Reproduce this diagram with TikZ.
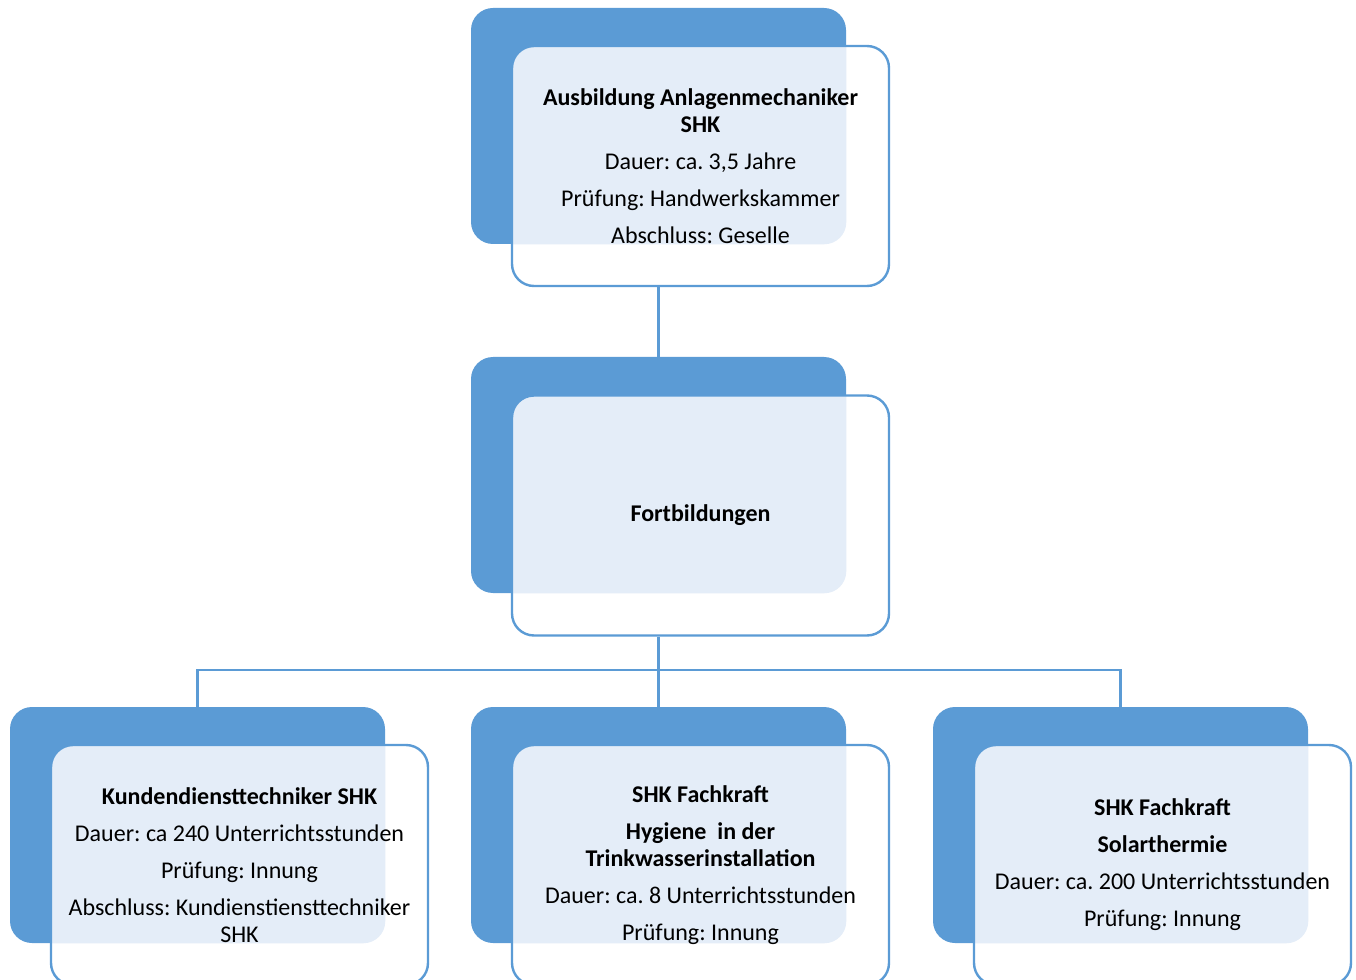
\documentclass[tikz,border=0pt]{standalone}
\usepackage{fontspec}
\setmainfont{Carlito}
\usepackage{pgf, tikz}
\definecolor{shkblue}{RGB}{91,155,213}
\definecolor{shktint}{RGB}{228,237,248}
\frenchspacing

\begin{document}
\begin{tikzpicture}[x=0.75pt,y=-0.75pt,
  back/.style={rectangle, rounded corners=16.5pt, fill=shkblue, minimum width=281.25pt, minimum height=177pt, inner sep=0pt},
  front/.style={rectangle, rounded corners=16.5pt, draw=shkblue, line width=1.8pt, fill=white, minimum width=282.75pt, minimum height=180pt, inner sep=0pt, align=center, font=\fontsize{18}{20.25}\selectfont},
  conn/.style={draw=shkblue, line width=2pt}]
\useasboundingbox (0,0) rectangle (1356,980);
\clip (0,0) rectangle (1356,980);

\node[back] (b1) at (658.5,126) {};
\node[back] (b2) at (658.5,475) {};
\node[back] (b3) at (197.5,825) {};
\node[back] (b4) at (658.5,825) {};
\node[back] (b5) at (1120.5,825) {};

\node[front, path picture={\fill[shktint, rounded corners=16.5pt] (b1.south west) rectangle (b1.north east);}] (f1) at (700.5,166)
  {\textbf{Ausbildung Anlagenmechaniker}\\ \textbf{SHK}\\[7.5pt] Dauer: ca. 3,5 Jahre\\[7.5pt] Prüfung: Handwerkskammer\\[7.5pt] Abschluss: Geselle};
\node[front, path picture={\fill[shktint, rounded corners=16.5pt] (b2.south west) rectangle (b2.north east);}] (f2) at (700.5,515.5)
  {\textbf{Fortbildungen}};
\node[front, path picture={\fill[shktint, rounded corners=16.5pt] (b3.south west) rectangle (b3.north east);}] (f3) at (239.5,865)
  {\textbf{Kundendiensttechniker SHK}\\[7.5pt] Dauer: ca 240 Unterrichtsstunden\\[7.5pt] Prüfung: Innung\\[7.5pt] Abschluss: Kundienstiensttechniker\\ SHK};
\node[front, path picture={\fill[shktint, rounded corners=16.5pt] (b4.south west) rectangle (b4.north east);}] (f4) at (700.5,865)
  {\textbf{SHK Fachkraft}\\[7.5pt] \textbf{Hygiene\ \ in der}\\ \textbf{Trinkwasserinstallation}\\[7.5pt] Dauer: ca. 8 Unterrichtsstunden\\[7.5pt] Prüfung: Innung};
\node[front, path picture={\fill[shktint, rounded corners=16.5pt] (b5.south west) rectangle (b5.north east);}] (f5) at (1162.5,865)
  {\textbf{SHK Fachkraft}\\[7.5pt] \textbf{Solarthermie}\\[7.5pt] Dauer: ca. 200 Unterrichtsstunden\\[7.5pt] Prüfung: Innung};

\coordinate (hub) at (658.5,670);
\draw[conn] (b1.south |- f1.south) -- (b2.north);
\draw[conn] (b2.south |- f2.south) -- (hub);
\draw[conn] (b3.north) |- (hub) -| (b5.north);
\draw[conn] (hub) -- (b4.north);
\end{tikzpicture}
\end{document}
